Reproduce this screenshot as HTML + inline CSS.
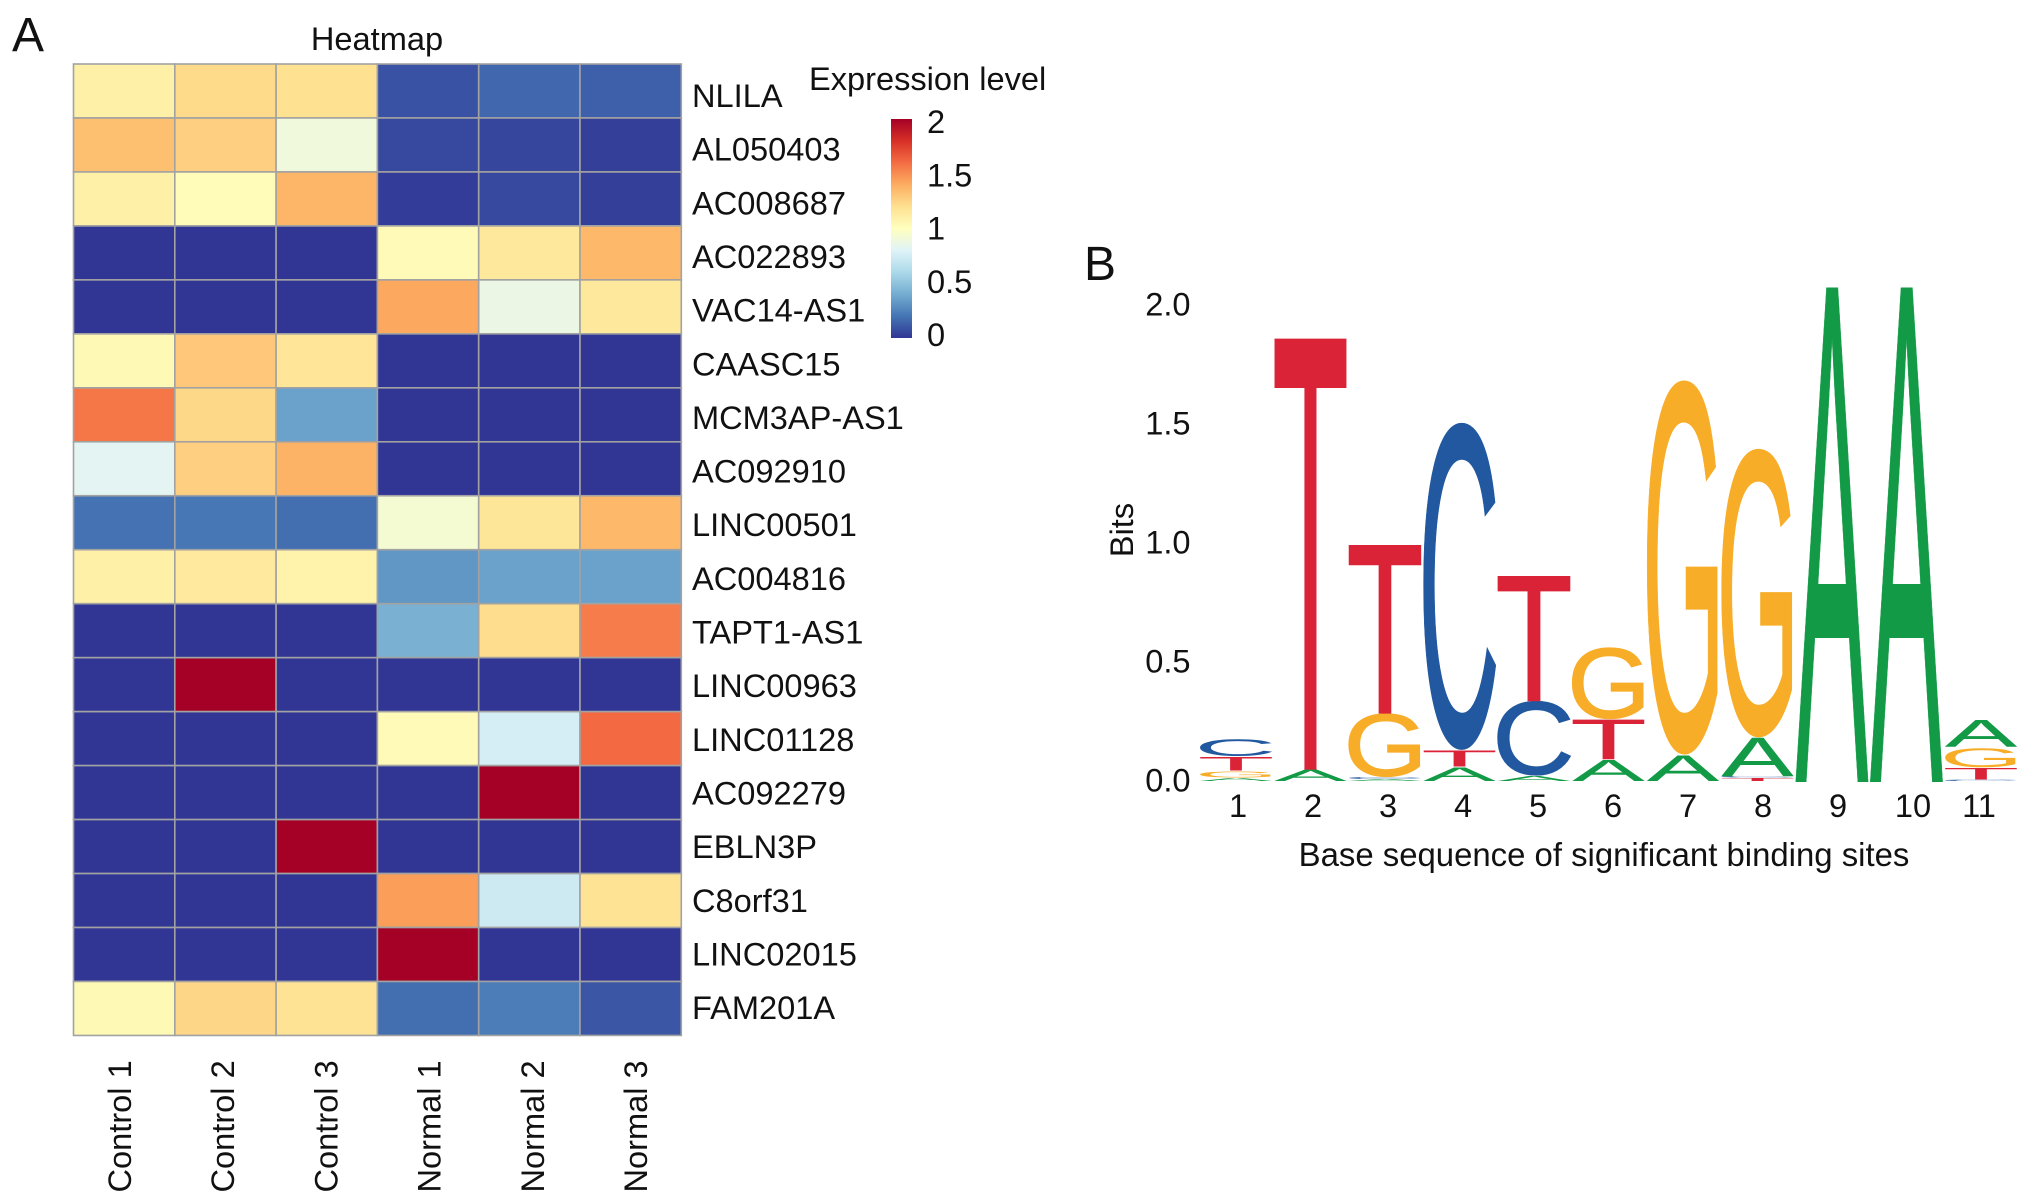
<!DOCTYPE html>
<html lang="en">
<head>
<meta charset="utf-8">
<title>Heatmap and sequence logo</title>
<style>
html,body{margin:0;padding:0;background:#fff;}
svg{display:block;}
text{font-family:"Liberation Sans",sans-serif;font-size:32.6px;fill:#111;}
</style>
</head>
<body>
<svg id="fig" xmlns="http://www.w3.org/2000/svg" width="2032" height="1204" viewBox="0 0 2032 1204">
  <defs>
    <linearGradient id="legend-gradient" x1="0" y1="1" x2="0" y2="0">
      <stop offset="0" stop-color="#313695"/>
      <stop offset="0.1" stop-color="#4575b4"/>
      <stop offset="0.2" stop-color="#74add1"/>
      <stop offset="0.3" stop-color="#abd9e9"/>
      <stop offset="0.4" stop-color="#e0f3f8"/>
      <stop offset="0.5" stop-color="#ffffbf"/>
      <stop offset="0.6" stop-color="#fee090"/>
      <stop offset="0.7" stop-color="#fdae61"/>
      <stop offset="0.8" stop-color="#f46d43"/>
      <stop offset="0.9" stop-color="#d73027"/>
      <stop offset="1" stop-color="#a50026"/>
    </linearGradient>
  </defs>
  <text x="12" y="51" style="font-size:48px">A</text>
  <text x="1084" y="280" style="font-size:48px">B</text>
  <text x="377" y="50" text-anchor="middle">Heatmap</text>
  <g id="cells"></g>
  <g id="row-labels"></g>
  <g id="col-labels"></g>
  <text x="809" y="90">Expression level</text>
  <rect x="891" y="119" width="21" height="219" fill="url(#legend-gradient)"/>
  <g id="legend-ticks"></g>
  <g id="logo"></g>
  <g id="logo-y"></g>
  <g id="logo-x"></g>
  <text transform="translate(1133,530) rotate(-90)" text-anchor="middle">Bits</text>
  <text x="1604" y="866" text-anchor="middle" style="font-size:32.9px">Base sequence of significant binding sites</text>
</svg>
<script>
const rowNames = ["NLILA","AL050403","AC008687","AC022893","VAC14-AS1","CAASC15","MCM3AP-AS1","AC092910","LINC00501","AC004816","TAPT1-AS1","LINC00963","LINC01128","AC092279","EBLN3P","C8orf31","LINC02015","FAM201A"];
const colNames = ["Control 1","Control 2","Control 3","Normal 1","Normal 2","Normal 3"];
const heatValues = [
  [1.10,1.22,1.19,0.09,0.16,0.13],
  [1.33,1.27,0.90,0.06,0.05,0.03],
  [1.10,1.02,1.37,0.02,0.06,0.03],
  [0,0,0,1.03,1.15,1.36],
  [0,0,0,1.42,0.87,1.15],
  [1.04,1.30,1.17,0,0,0],
  [1.57,1.23,0.36,0,0,0],
  [0.82,1.27,1.38,0,0,0],
  [0.19,0.21,0.18,0.93,1.16,1.36],
  [1.10,1.14,1.08,0.32,0.36,0.36],
  [0,0,0,0.42,1.21,1.55],
  [0,2,0,0,0,0],
  [0,0,0,1.03,0.76,1.61],
  [0,0,0,0,2,0],
  [0,0,2,0,0,0],
  [0,0,0,1.45,0.73,1.18],
  [0,0,0,2,0,0],
  [1.04,1.24,1.18,0.18,0.23,0.10]
];
const legendTickValues = [0,0.5,1,1.5,2];
const paletteHex = ["#313695","#4575b4","#74add1","#abd9e9","#e0f3f8","#ffffbf","#fee090","#fdae61","#f46d43","#d73027","#a50026"];

const logoLetters = ["AGTC","AT","ACGT","ATC","ACT","ATG","AG","TCAG","A","A","CTGA"];
const logoBits = [
  [0.014,0.030,0.060,0.076],
  [0.052,1.804],
  [0.008,0.010,0.268,0.705],
  [0.060,0.072,1.372],
  [0.024,0.314,0.523],
  [0.092,0.170,0.300],
  [0.112,1.570],
  [0.014,0.006,0.165,1.210],
  [2.07],
  [2.07],
  [0.006,0.052,0.084,0.118]
];
const logoYTicks = [0,0.5,1,1.5,2];
const logoXTicks = ["1","2","3","4","5","6","7","8","9","10","11"];

const svgNS = "http://www.w3.org/2000/svg";
const hmX = j => 73.5 + 101.3 * j;
const hmY = i => 64 + 53.97 * i;
const rowLabelY = i => 96 + 53.65 * i + 11;
const colLabelX = j => 120 + 103.2 * j;
const legendY = v => 335 - 106.5 * v;
const bitsY = b => 781 - 238.5 * b;
const logoX = p => 1200 + 74.5 * p;
const logoTickX = p => p === 10 ? 1979 : 1238 + 75 * p;
const LOGO_W = 72;
const letterColor = {A:"#129a46",T:"#da2337",G:"#f8ad29",C:"#21589f"};
const ink = {
  A:{l:0.004,w:0.660,b:0,h:0.688},
  T:{l:0.021,w:0.569,b:0,h:0.688},
  G:{l:0.049,w:0.670,b:-0.011,h:0.710},
  C:{l:0.050,w:0.632,b:-0.011,h:0.710}
};

function heatColor(v){
  const t = Math.max(0,Math.min(1,v/2))*(paletteHex.length-1);
  const k = Math.min(paletteHex.length-2,Math.floor(t));
  const f = t-k;
  const a = parseInt(paletteHex[k].slice(1),16), b = parseInt(paletteHex[k+1].slice(1),16);
  const mix = s => Math.round(((a>>s)&255)*(1-f)+((b>>s)&255)*f);
  return "rgb("+mix(16)+","+mix(8)+","+mix(0)+")";
}
function make(tag,parent,attrs,content){
  const el = document.createElementNS(svgNS,tag);
  for(const k in attrs) el.setAttribute(k,attrs[k]);
  if(content!==undefined) el.textContent = content;
  parent.appendChild(el);
  return el;
}

const cellsG = document.getElementById("cells");
heatValues.forEach((row,i)=>{
  row.forEach((v,j)=>{
    const el = make("rect",cellsG,{x:hmX(j),y:hmY(i),width:hmX(j+1)-hmX(j),height:hmY(i+1)-hmY(i),fill:heatColor(v),stroke:"#a2a2a2","stroke-width":1.6});
    
    
  });
});
const rowG = document.getElementById("row-labels");
rowNames.forEach((n,i)=>{
  const el = make("text",rowG,{x:692,y:rowLabelY(i)},n);
  
  
});
const colG = document.getElementById("col-labels");
colNames.forEach((n,j)=>{
  const el = make("text",colG,{transform:"translate("+(colLabelX(j)+11)+",1192.5) rotate(-90)"},n);
  
  
});
const legG = document.getElementById("legend-ticks");
legendTickValues.forEach(v=>{
  const el = make("text",legG,{x:927,y:legendY(v)+11},String(v));
  
  
});

const logoG = document.getElementById("logo");
logoBits.forEach((stack,p)=>{
  let base = 0;
  stack.forEach((bits,k)=>{
    const ch = logoLetters[p][k];
    const m = ink[ch];
    const top = bitsY(base+bits);
    const bottom = bitsY(base);
    const gap = Math.min(1.2,(bottom-top)*0.15);
    const sy = (bottom-top-gap)/(m.h*100);
    const sx = LOGO_W/(m.w*100);
    const tx = logoX(p)-m.l*100*sx;
    const ty = bottom+m.b*100*sy;
    const strokeStyle = (bottom-top)>60 ? ";stroke:"+letterColor[ch]+";stroke-width:1.4px;vector-effect:non-scaling-stroke" : "";
    const el = make("text",logoG,{x:0,y:0,transform:"translate("+tx+","+ty+") scale("+sx+","+sy+")",style:"font-size:100px;fill:"+letterColor[ch]+strokeStyle},ch);
    
    
    base += bits;
  });
});
const logoYG = document.getElementById("logo-y");
logoYTicks.forEach(t=>{
  const el = make("text",logoYG,{x:1190.5,y:bitsY(t)+10.5+(t*0.5),"text-anchor":"end"},t.toFixed(1));
  
  
});
const logoXG = document.getElementById("logo-x");
logoXTicks.forEach((t,p)=>{
  const el = make("text",logoXG,{x:logoTickX(p),y:817,"text-anchor":"middle"},t);
  
  
});
</script>
</body>
</html>
